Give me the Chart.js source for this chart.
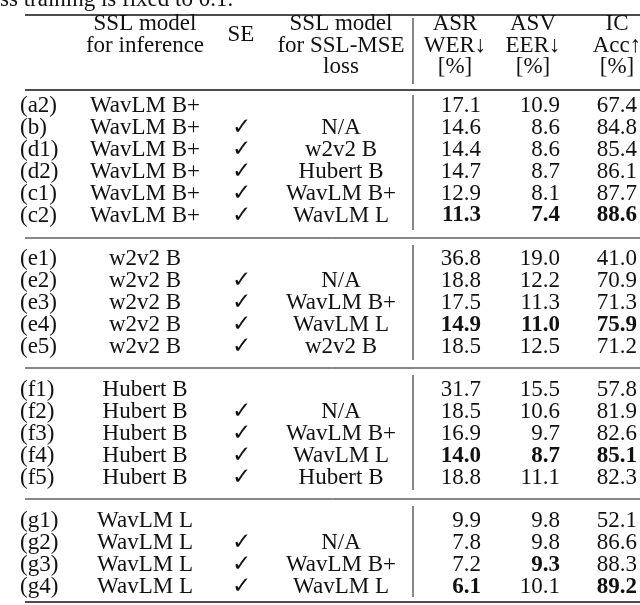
<!DOCTYPE html>
<html><head><meta charset="utf-8">
<script src="https://cdn.jsdelivr.net/npm/chart.js@4.4.0/dist/chart.umd.min.js"></script>
<style>html,body{margin:0;padding:0;background:#fff}#wrap{width:640px;height:605px}</style>
</head><body><div id="wrap"><canvas id="c" width="640" height="605"></canvas></div>
<script>
const rowLabels = ["(a2)","(b)","(d1)","(d2)","(c1)","(c2)","(e1)","(e2)","(e3)","(e4)","(e5)","(f1)","(f2)","(f3)","(f4)","(f5)","(g1)","(g2)","(g3)","(g4)"];
const sectionOf = [0,0,0,0,0,0,1,1,1,1,1,2,2,2,2,2,3,3,3,3];
const inferenceModel = ["WavLM B+","WavLM B+","WavLM B+","WavLM B+","WavLM B+","WavLM B+","w2v2 B","w2v2 B","w2v2 B","w2v2 B","w2v2 B","Hubert B","Hubert B","Hubert B","Hubert B","Hubert B","WavLM L","WavLM L","WavLM L","WavLM L"];
const seFlags = [0,1,1,1,1,1,0,1,1,1,1,0,1,1,1,1,0,1,1,1];
const mseModel = ["","N/A","w2v2 B","Hubert B","WavLM B+","WavLM L","","N/A","WavLM B+","WavLM L","w2v2 B","","N/A","WavLM B+","WavLM L","Hubert B","","N/A","WavLM B+","WavLM L"];
const asrWER = [17.1,14.6,14.4,14.7,12.9,11.3,36.8,18.8,17.5,14.9,18.5,31.7,18.5,16.9,14.0,18.8,9.9,7.8,7.2,6.1];
const asvEER = [10.9,8.6,8.6,8.7,8.1,7.4,19.0,12.2,11.3,11.0,12.5,15.5,10.6,9.7,8.7,11.1,9.8,9.8,9.3,10.1];
const icAcc = [67.4,84.8,85.4,86.1,87.7,88.6,41.0,70.9,71.3,75.9,71.2,57.8,81.9,82.6,85.1,82.3,52.1,86.6,88.3,89.2];
const asrBold = [5,9,14,19];
const asvBold = [5,9,14,18];
const icBold = [5,9,14,19];
const headerCols = [["SSL model","for inference"],["SE"],["SSL model","for SSL-MSE","loss"],["ASR","WER↓","[%]"],["ASV","EER↓","[%]"],["IC","Acc↑","[%]"]];
const caption = "ss training is fixed to 0.1.";

const ROW0=106, ROWH=21.9, GAP=21.5;
const rowY = rowLabels.map((_,i)=>ROW0+ROWH*i+GAP*sectionOf[i]);
const colX = {label:20, inf:145, se:241, mse:341, vline:413, asrR:481, asvR:560, icR:637, asrC:455, asvC:533, icC:617};
const FONT = '23px "Liberation Serif","DejaVu Serif",serif';
const BFONT = 'bold 23px "Liberation Serif","DejaVu Serif",serif';

const tablePlugin = {
  id:'table',
  afterDraw(chart){
    const ctx=chart.ctx, xs=chart.scales.x, ys=chart.scales.y;
    const X=v=>xs.getPixelForValue(v), Y=v=>ys.getPixelForValue(v);
    ctx.save();
    ctx.fillStyle='#111'; ctx.strokeStyle='#111';
    ctx.textBaseline='middle';
    ctx.font=FONT;
    ctx.textAlign='left';
    ctx.fillText(caption, X(0), Y(0));
    const hline=(y,w)=>{ctx.lineWidth=w;ctx.beginPath();ctx.moveTo(X(25),Y(y));ctx.lineTo(X(640),Y(y));ctx.stroke();};
    hline(15,1.6); hline(90,1.4); hline(238,1); hline(368,1); hline(499,1); hline(602,1.6);
    const vseg=(a,b)=>{ctx.lineWidth=1;ctx.beginPath();ctx.moveTo(X(colX.vline),Y(a));ctx.lineTo(X(colX.vline),Y(b));ctx.stroke();};
    vseg(18,84); vseg(95,230); vseg(245,360); vseg(375,490); vseg(506,597);
    ctx.textAlign='center';
    const hy=[24,46,67];
    const hx=[colX.inf,colX.se,colX.mse,colX.asrC,colX.asvC,colX.icC];
    headerCols.forEach((lines,c)=>{
      if(lines.length===1){ctx.fillText(lines[0],X(hx[c]),Y(35));}
      else lines.forEach((t,k)=>ctx.fillText(t,X(hx[c]),Y(hy[k])));
    });
    rowLabels.forEach((lab,i)=>{
      const y=Y(rowY[i]);
      ctx.font=FONT;
      ctx.textAlign='left'; ctx.fillText(lab,X(colX.label),y);
      ctx.textAlign='center';
      ctx.fillText(inferenceModel[i],X(colX.inf),y);
      if(seFlags[i]) ctx.fillText('✓',X(colX.se),y);
      if(mseModel[i]) ctx.fillText(mseModel[i],X(colX.mse),y);
      ctx.textAlign='right';
      ctx.font=asrBold.includes(i)?BFONT:FONT; ctx.fillText(asrWER[i].toFixed(1),X(colX.asrR),y);
      ctx.font=asvBold.includes(i)?BFONT:FONT; ctx.fillText(asvEER[i].toFixed(1),X(colX.asvR),y);
      ctx.font=icBold.includes(i)?BFONT:FONT; ctx.fillText(icAcc[i].toFixed(1),X(colX.icR),y);
    });
    ctx.restore();
  }
};

new Chart(document.getElementById('c'),{
  type:'scatter',
  data:{datasets:[{data:rowLabels.map((_,i)=>({x:colX.asrR,y:rowY[i]})),pointRadius:0}]},
  options:{
    responsive:false,animation:false,
    layout:{padding:0},
    plugins:{legend:{display:false},tooltip:{enabled:false}},
    scales:{
      x:{type:'linear',min:0,max:640,display:false},
      y:{type:'linear',min:0,max:605,reverse:true,display:false}
    }
  },
  plugins:[tablePlugin]
});
</script></body></html>
